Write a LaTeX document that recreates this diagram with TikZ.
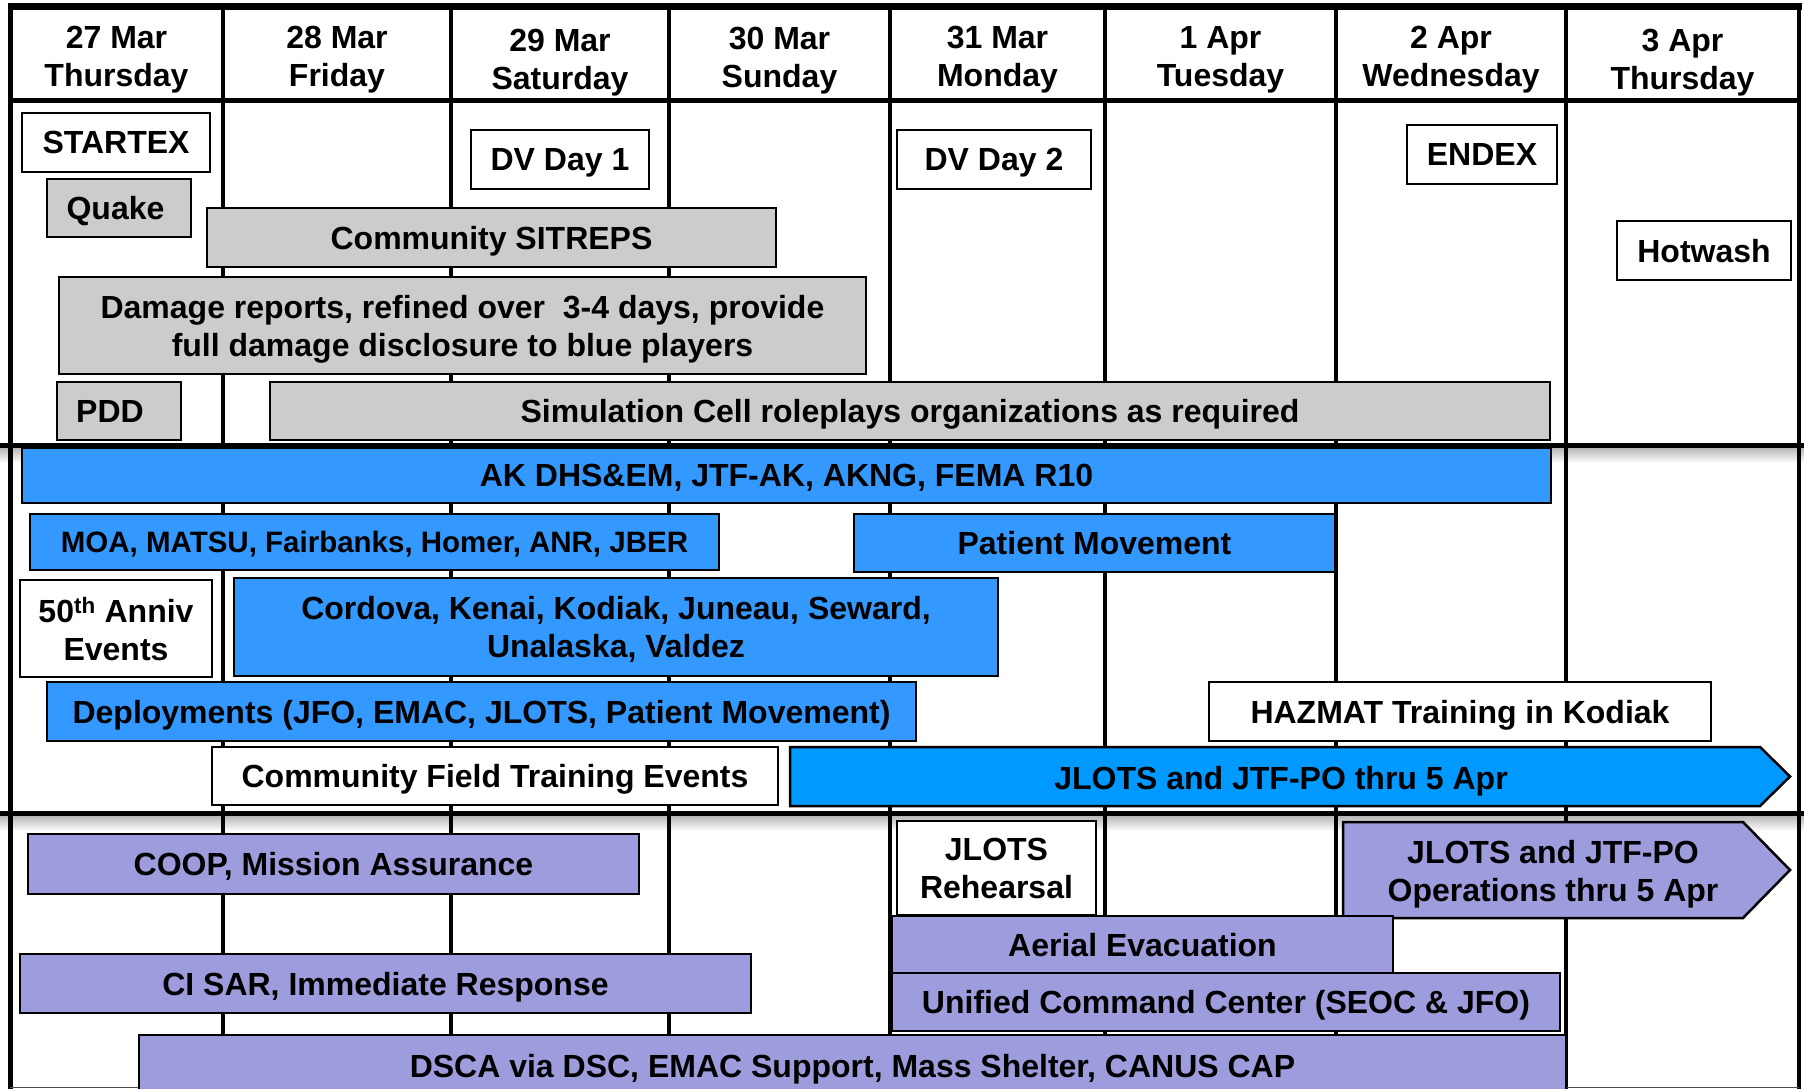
\documentclass[tikz,border=0pt]{standalone}
\usepackage{fontspec}
\setmainfont{Liberation Sans}
\definecolor{gfill}{RGB}{204,204,204}
\definecolor{bfill}{RGB}{51,153,255}
\definecolor{cfill}{RGB}{0,153,255}
\definecolor{pfill}{RGB}{157,157,222}
\newcommand\mybox[7]{\node[#1,minimum width={#4pt-#2pt},minimum height={#5pt-#3pt}] (#6) at (#2,#3) {#7};}
\begin{document}
\begin{tikzpicture}[x=1pt,y=-1pt,
  txt/.style={font=\bfseries\fontsize{32}{38}\selectfont, align=center, inner sep=0pt},
  ctxt/.style={txt, text depth=0pt},
  basebox/.style={ctxt, draw=black, line width=2.5pt, outer sep=0pt, anchor=north west},
  gbox/.style={basebox, fill=gfill},
  wbox/.style={basebox, fill=white},
  bbox/.style={basebox, fill=bfill},
  pbox/.style={basebox, fill=pfill},
  colline/.style={line width=4.5pt, black},
  rowline/.style={line width=5pt, black},
  arrowbox/.style={draw=black, line width=2.5pt, line join=miter}
]
\path[use as bounding box] (0,0) rectangle (1804,1089);
\clip (0,0) rectangle (1804,1089);
\fill[white] (0,0) rectangle (1804,1089);
% shadows under section lines
\shade[top color=black!30, bottom color=white] (0,447) rectangle (1804,463);
\shade[top color=black!30, bottom color=white] (0,815) rectangle (1804,831);
% column lines
\foreach \cx in {223,451,669,890,1105,1336,1566}
  \draw[colline] (\cx,4) -- (\cx,1089);
\draw[colline] (10.5,4) -- (10.5,1089);
\draw[colline] (1799,4) -- (1799,1089);
% row lines
\draw[line width=7pt] (8,7) -- (1802,7);
\draw[rowline] (10,101) -- (1799,101);
\draw[rowline] (0,445.5) -- (1804,445.5);
\draw[rowline] (0,813.5) -- (1804,813.5);
\draw[line width=1.5pt, black!70] (10,1087.5) -- (1799,1087.5);
% headers
\node[txt] (h1) at (116.5,60) {27 Mar\\Thursday};
\node[txt] (h2) at (337,60) {28 Mar\\Friday};
\node[txt] (h3) at (560,63) {29 Mar\\Saturday};
\node[txt] (h4) at (779.5,61) {30 Mar\\Sunday};
\node[txt] (h5) at (997.5,60) {31 Mar\\Monday};
\node[txt] (h6) at (1220.5,60) {1 Apr\\Tuesday};
\node[txt] (h7) at (1451,60) {2 Apr\\Wednesday};
\node[txt] (h8) at (1682.5,63) {3 Apr\\Thursday};
% top section
\mybox{wbox}{22}{113}{210}{172}{startex}{STARTEX}
\mybox{gbox}{47}{179}{191}{237}{quake}{Quake\hspace{7pt}}
\mybox{wbox}{471}{130}{649}{189}{dvone}{DV Day 1}
\mybox{wbox}{897}{130}{1091}{189}{dvtwo}{DV Day 2}
\mybox{wbox}{1407}{125}{1557}{184}{endex}{ENDEX}
\mybox{wbox}{1617}{221}{1791}{280}{hotwash}{Hotwash}
\mybox{gbox}{207}{208}{776}{267}{sitreps}{Community SITREPS}
\mybox{gbox}{59}{277}{866}{374}{damage}{Damage reports, refined over~ 3-4 days, provide\\full damage disclosure to blue players}
\mybox{gbox}{57}{382}{181}{440}{pdd}{PDD\hspace{18pt}}
\mybox{gbox}{270}{382}{1550}{440}{simcell}{Simulation Cell roleplays organizations as required}
% middle section
\mybox{bbox}{22}{448}{1551}{503}{akdhs}{AK DHS\&EM, JTF-AK, AKNG, FEMA R10}
\mybox{bbox,font=\bfseries\fontsize{29.5}{35}\selectfont}{30}{514}{719}{570}{moa}{MOA, MATSU, Fairbanks, Homer, ANR, JBER}
\mybox{bbox}{854}{514}{1335}{572}{patient}{Patient Movement}
\mybox{wbox}{20}{580}{212}{677}{anniv}{50\textsuperscript{th} Anniv\\Events}
\mybox{bbox}{234}{578}{998}{676}{cordova}{Cordova, Kenai, Kodiak, Juneau, Seward,\\Unalaska, Valdez}
\mybox{bbox}{47}{682}{916}{741}{deploy}{Deployments (JFO, EMAC, JLOTS, Patient Movement)}
\mybox{wbox}{1209}{682}{1711}{741}{hazmat}{HAZMAT Training in Kodiak}
\mybox{wbox}{212}{747}{778}{805}{cfte}{Community Field Training Events}
\draw[arrowbox, fill=cfill] (790,747) -- (1760,747) -- (1790,776.5) -- (1760,806) -- (790,806) -- cycle;
\node[ctxt] (jlotsa) at (1281,777.5) {JLOTS and JTF-PO thru 5 Apr};
% bottom section
\mybox{pbox}{28}{834}{639}{894}{coop}{COOP, Mission Assurance}
\mybox{wbox}{897}{821}{1096}{915}{rehearsal}{JLOTS\\Rehearsal}
\draw[arrowbox, fill=pfill] (1343,822) -- (1743,822) -- (1790,870) -- (1743,918) -- (1343,918) -- cycle;
\node[ctxt] (jlotsb) at (1553,871) {JLOTS and JTF-PO\\Operations thru 5 Apr};
\mybox{pbox}{892}{916}{1393}{973}{aerial}{Aerial Evacuation}
\mybox{pbox}{20}{954}{751}{1013}{cisar}{CI SAR, Immediate Response}
\mybox{pbox}{892}{973}{1560}{1031}{ucc}{Unified Command Center (SEOC \& JFO)}
\mybox{pbox}{139}{1035}{1566}{1096}{dsca}{DSCA via DSC, EMAC Support, Mass Shelter, CANUS CAP}
\end{tikzpicture}
\end{document}
